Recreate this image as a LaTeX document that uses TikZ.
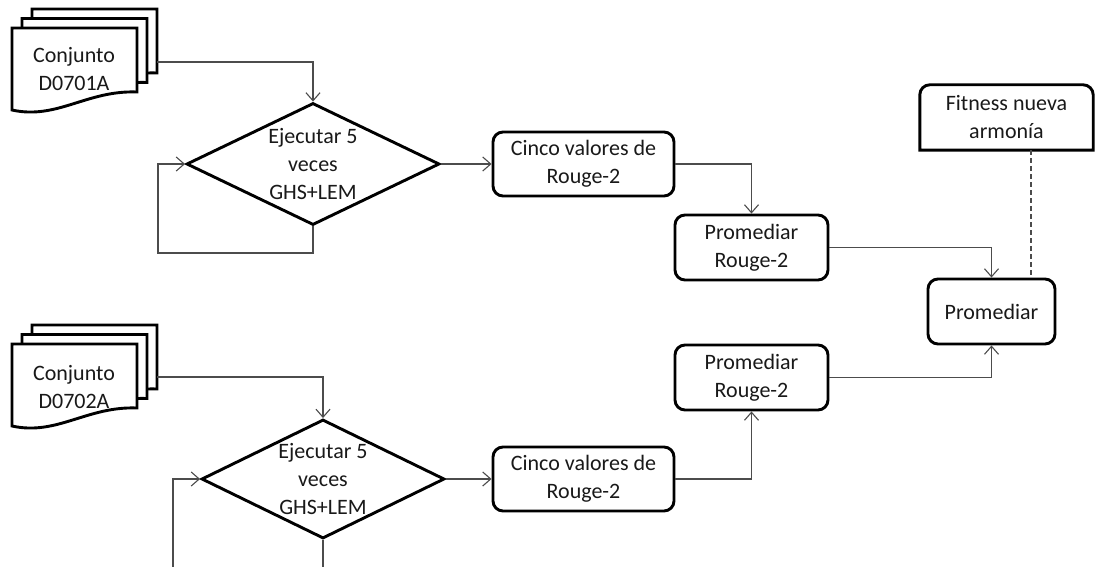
\documentclass[tikz,border=0pt]{standalone}
\usepackage{fontspec}
\setmainfont{Carlito}
\usetikzlibrary{arrows.meta,shapes.geometric,calc}
\newcommand\docstack[2]{%
  \foreach \d in {2,1,0} {
    \begin{scope}[shift={(#1+10*\d,#2-9.5*\d)}]
      \draw[sheet] (0,0) -- (125,0) -- (125,64) .. controls (75,62) and (45,92) .. (0,82) -- cycle;
    \end{scope}
  }%
}
\begin{document}
\begin{tikzpicture}[x=1pt,y=-1pt,
  shapeline/.style={line width=2.9pt, draw=black},
  conn/.style={line width=1.1pt, draw=black!70},
  arr/.style={conn, -{Straight Barb[length=8pt,width=14pt,line width=1.1pt]}},
  txt/.style={font=\fontsize{22}{28}\selectfont, text=black!90, align=center},
  roundbox/.style={shapeline, rectangle, rounded corners=10pt, fill=white, inner sep=0pt, txt},
  decbox/.style={shapeline, diamond, aspect=2.07, inner sep=0pt, fill=white, txt},
  sheet/.style={shapeline, fill=white, line join=miter}
]
\useasboundingbox (0,0) rectangle (1095,567);

% document stacks
\docstack{12}{28}
\node[txt] (doc1) at (74,69) {Conjunto\\D0701A};
\coordinate (doc1out) at (157,62);
\docstack{12}{344}
\node[txt] (doc2) at (74,387) {Conjunto\\D0702A};
\coordinate (doc2out) at (157,377);

% decisions
\node[decbox, minimum width=253pt, minimum height=122pt] (d1) at (313,164) {Ejecutar 5\\veces\\GHS+LEM};
\node[decbox, minimum width=243pt, minimum height=119pt] (d2) at (323,479) {Ejecutar 5\\veces\\GHS+LEM};

% process boxes
\node[roundbox, minimum width=181pt, minimum height=64pt] (c1) at (583.5,164) {Cinco valores de\\Rouge-2};
\node[roundbox, minimum width=153pt, minimum height=65pt] (p1) at (751.5,247.5) {Promediar\\Rouge-2};
\node[roundbox, minimum width=127pt, minimum height=65pt] (prom) at (991.5,311.5) {Promediar};
\node[roundbox, minimum width=153pt, minimum height=65pt] (p2) at (751.5,377.5) {Promediar\\Rouge-2};
\node[roundbox, minimum width=181pt, minimum height=64pt] (c2) at (583.5,479) {Cinco valores de\\Rouge-2};

% fitness box (rounded top corners only)
\node[txt, minimum width=173pt, minimum height=65pt, inner sep=0pt] (fit) at (1006.5,117.5) {Fitness nueva\\armonía};
\draw[shapeline, line join=miter]
  (fit.south west) -- ($(fit.north west)+(0,10)$)
  .. controls ($(fit.north west)+(0,4.5)$) and ($(fit.north west)+(4.5,0)$) .. ($(fit.north west)+(10,0)$)
  -- ($(fit.north east)+(-10,0)$)
  .. controls ($(fit.north east)+(-4.5,0)$) and ($(fit.north east)+(0,4.5)$) .. ($(fit.north east)+(0,10)$)
  -- (fit.south east) -- cycle;

% connectors (upper)
\draw[arr] (doc1out) -| (d1.north);
\draw[arr] (d1.east) -- (c1.west);
\draw[arr] (c1.east) -| (p1.north);
\draw[arr] (p1.east) -| (prom.north);
\coordinate (loop1) at (158,253);
\draw[arr] (d1.south) |- (loop1) |- (d1.west);
\draw[conn, dash pattern=on 5pt off 3pt] ([xshift=24.5pt]fit.south) -- ([xshift=24.5pt]fit.south |- prom.north);

% connectors (lower)
\draw[arr] (doc2out) -| (d2.north);
\draw[arr] (d2.east) -- (c2.west);
\draw[arr] (c2.east) -| (p2.south);
\draw[arr] (p2.east) -| (prom.south);
\begin{scope}
  \clip (0,0) rectangle (1095,567);
  \coordinate (loop2) at (173,600);
  \draw[arr] (d2.south) |- (loop2) |- (d2.west);
\end{scope}
\end{tikzpicture}
\end{document}
